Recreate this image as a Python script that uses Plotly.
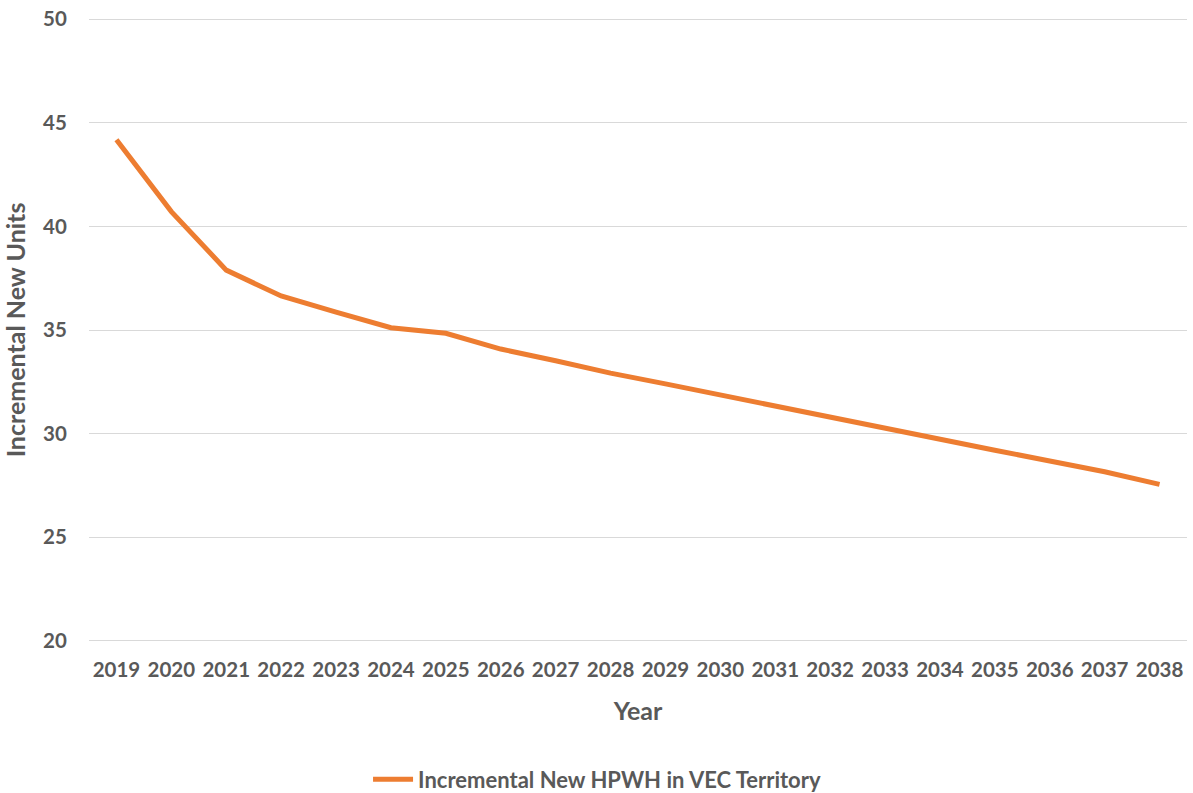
import plotly.graph_objects as go

years = [str(y) for y in range(2019, 2039)]
units = [44.18, 40.71, 37.89, 36.64, 35.86, 35.11, 34.84, 34.08, 33.52, 32.92,
         32.40, 31.86, 31.30, 30.77, 30.22, 29.69, 29.20, 28.68, 28.16, 27.55]
series_name = "Incremental New HPWH in VEC Territory"

FONT = "Lato"
GRAY = "#595959"

fig = go.Figure()
fig.add_trace(go.Scatter(
    x=years, y=units, mode="lines", name=series_name,
    line=dict(color="#ED7D31", width=5),
))

fig.update_layout(
    width=1193, height=793,
    margin=dict(l=89, r=6, t=17, b=150, autoexpand=False),
    paper_bgcolor="white", plot_bgcolor="white",
    font=dict(family=FONT, color=GRAY, size=20, weight="bold"),
    showlegend=True,
    legend=dict(
        orientation="h",
        x=0.4627, xanchor="center", y=-0.218, yanchor="middle",
        font=dict(family=FONT, size=22, color=GRAY, weight="bold"),
        itemwidth=40,
    ),
)
fig.update_xaxes(
    type="category", range=[-0.5, 19.5], automargin=False,
    showgrid=False, showline=False, zeroline=False,
    ticks="outside", ticklen=8, tickcolor="rgba(0,0,0,0)",
    tickfont=dict(family=FONT, size=20.5, color=GRAY, weight="bold"),
    title=dict(text="Year", standoff=22,
               font=dict(family=FONT, size=25, color=GRAY, weight="bold")),
)
fig.update_yaxes(
    range=[19.9, 50.1], dtick=5, tick0=20, automargin=False,
    showgrid=True, gridcolor="#D9D9D9", gridwidth=1.3,
    zeroline=False, showline=False,
    ticks="outside", ticklen=17, tickcolor="rgba(0,0,0,0)",
    tickfont=dict(family=FONT, size=20.5, color=GRAY, weight="bold"),
    title=dict(text="Incremental New Units", standoff=14,
               font=dict(family=FONT, size=25, color=GRAY, weight="bold")),
)

fig.write_html("out.html", config={"displayModeBar": False},
               post_script="document.body.style.margin='0px';")
